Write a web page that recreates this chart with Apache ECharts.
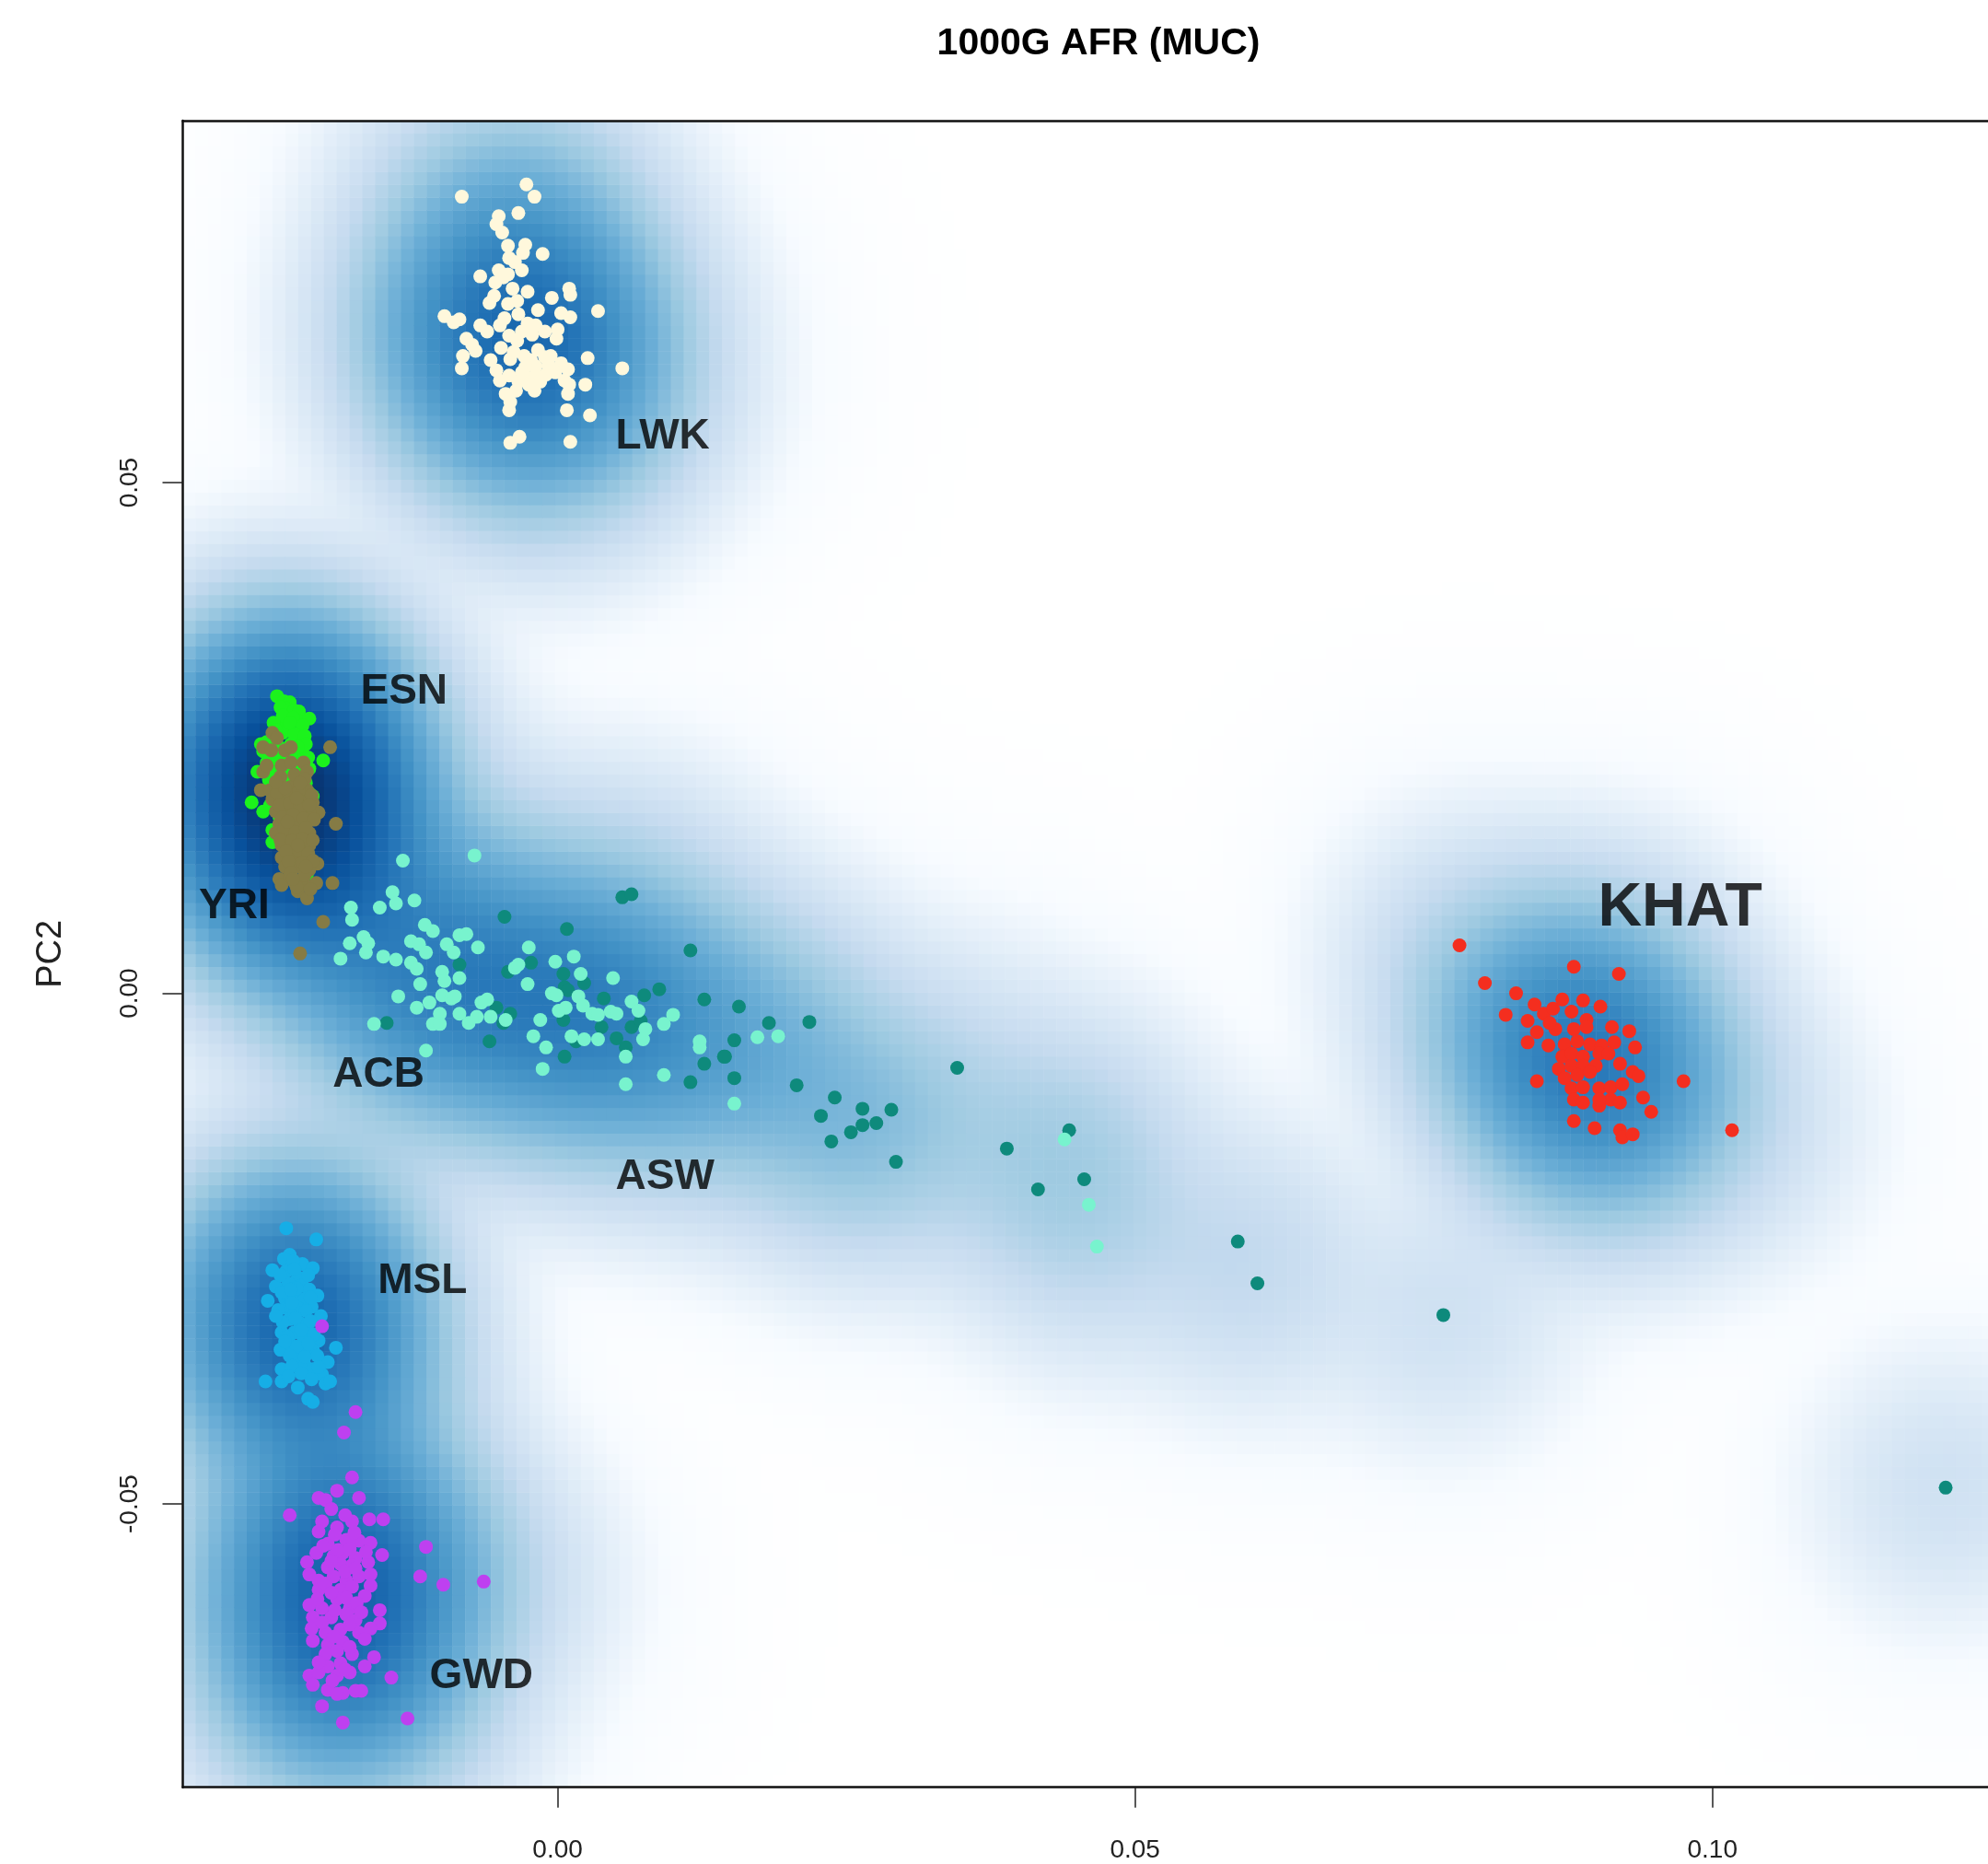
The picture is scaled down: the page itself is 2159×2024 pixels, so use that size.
<!DOCTYPE html>
<html>
<head>
<meta charset="utf-8">
<script src="https://cdn.jsdelivr.net/npm/echarts@6/dist/echarts.min.js"></script>
<style>
html, body { margin: 0; padding: 0; background: #fff; }
#main { width: 2159px; height: 2024px; }
</style>
</head>
<body>
<div id="main"></div>
<script>
// PC1 / PC2 scores per population
// (dense cores hold more overlapping points than can be told apart; those are estimated)
var lwk = [[-0.0083,0.0780],[-0.0027,0.0792],[-0.0020,0.0780],[-0.0034,0.0764],[-0.0051,0.0761],[-0.0053,0.0753],[-0.0043,0.0732],[-0.0028,0.0733],[-0.0013,0.0724],[-0.0042,0.0720],[-0.0037,0.0716],[-0.0031,0.0708],[-0.0067,0.0702],[-0.0051,0.0708],[-0.0047,0.0701],[-0.0054,0.0696],[-0.0043,0.0704],[-0.0026,0.0687],[-0.0055,0.0683],[-0.0005,0.0681],[0.0010,0.0690],[0.0011,0.0684],[-0.0043,0.0675],[-0.0035,0.0678],[0.0035,0.0668],[-0.0098,0.0663],[-0.0085,0.0660],[-0.0090,0.0657],[-0.0067,0.0654],[-0.0050,0.0654],[-0.0034,0.0665],[-0.0017,0.0669],[-0.0026,0.0656],[-0.0019,0.0654],[-0.0011,0.0648],[0.0003,0.0666],[0.0011,0.0662],[-0.0001,0.0641],[-0.0042,0.0644],[-0.0035,0.0639],[-0.0031,0.0648],[-0.0079,0.0641],[-0.0074,0.0635],[-0.0071,0.0629],[-0.0082,0.0624],[-0.0083,0.0612],[-0.0049,0.0632],[-0.0058,0.0620],[-0.0041,0.0621],[-0.0029,0.0624],[-0.0023,0.0620],[-0.0011,0.0623],[-0.0006,0.0624],[0.0003,0.0617],[0.0009,0.0611],[0.0026,0.0622],[0.0056,0.0612],[-0.0050,0.0600],[-0.0042,0.0605],[-0.0034,0.0599],[-0.0026,0.0602],[-0.0019,0.0605],[-0.0010,0.0606],[-0.0002,0.0608],[0.0006,0.0600],[0.0010,0.0596],[0.0024,0.0596],[-0.0045,0.0587],[-0.0041,0.0579],[0.0009,0.0587],[-0.0042,0.0571],[0.0008,0.0571],[0.0028,0.0566],[-0.0041,0.0539],[-0.0033,0.0545],[0.0011,0.0540],[-0.0019,0.0614],[-0.0031,0.0608],[-0.0015,0.0599],[-0.0025,0.0596],
  [-0.0039,0.0690],[-0.0046,0.0661],[-0.0022,0.0645],[-0.0061,0.0648],[-0.0038,0.0628],[-0.0017,0.0630],[-0.0053,0.0610],[-0.0028,0.0613],[-0.0008,0.0615],[-0.0036,0.0590],[-0.0020,0.0590],[-0.0059,0.0676],[-0.0030,0.0725],[-0.0048,0.0745],[0.0000,0.0650]];

var esn = [[-0.0243,0.0291],[-0.0237,0.0286],[-0.0232,0.0285],[-0.0235,0.0279],[-0.0240,0.0280],[-0.0228,0.0277],[-0.0224,0.0276],[-0.0225,0.0267],[-0.0215,0.0269],[-0.0240,0.0261],[-0.0233,0.0261],[-0.0257,0.0244],[-0.0252,0.0246],[-0.0248,0.0238],[-0.0255,0.0237],[-0.0244,0.0244],[-0.0231,0.0244],[-0.0225,0.0247],[-0.0221,0.0240],[-0.0216,0.0231],[-0.0203,0.0228],[-0.0231,0.0232],[-0.0236,0.0226],[-0.0223,0.0223],[-0.0215,0.0220],[-0.0252,0.0226],[-0.0260,0.0217],[-0.0244,0.0214],[-0.0235,0.0211],[-0.0225,0.0211],[-0.0219,0.0214],[-0.0265,0.0187],[-0.0255,0.0178],[-0.0249,0.0184],[-0.0212,0.0193],[-0.0215,0.0196],[-0.0247,0.0160],[-0.0219,0.0166],[-0.0239,0.0190],[-0.0217,0.0117],[-0.0247,0.0148],
  [-0.0238,0.0272],[-0.0229,0.0270],[-0.0246,0.0265],[-0.0221,0.0262],[-0.0238,0.0255],[-0.0228,0.0254],[-0.0247,0.0250],[-0.0219,0.0252],[-0.0241,0.0241],[-0.0234,0.0238],[-0.0227,0.0236],[-0.0218,0.0244],[-0.0250,0.0232],[-0.0242,0.0229],[-0.0229,0.0226],[-0.0220,0.0229],[-0.0246,0.0220],[-0.0238,0.0218],[-0.0230,0.0217],[-0.0222,0.0219],[-0.0250,0.0209],[-0.0241,0.0206],[-0.0233,0.0204],[-0.0226,0.0203],[-0.0218,0.0206],[-0.0247,0.0196],[-0.0239,0.0195],[-0.0231,0.0196],[-0.0222,0.0194],[-0.0244,0.0185],[-0.0234,0.0183],[-0.0226,0.0185],[-0.0241,0.0173],[-0.0230,0.0172],[-0.0222,0.0175],[-0.0237,0.0162],[-0.0228,0.0160],[-0.0236,0.0150],[-0.0226,0.0146],[-0.0232,0.0138],[-0.0242,0.0203],[-0.0235,0.0228],[-0.0225,0.0241],[-0.0244,0.0258],[-0.0232,0.0265]];

var yri = [[-0.0247,0.0255],[-0.0243,0.0250],[-0.0255,0.0241],[-0.0248,0.0238],[-0.0236,0.0238],[-0.0231,0.0241],[-0.0197,0.0241],[-0.0239,0.0223],[-0.0231,0.0226],[-0.0220,0.0226],[-0.0217,0.0217],[-0.0255,0.0217],[-0.0257,0.0199],[-0.0249,0.0199],[-0.0239,0.0202],[-0.0231,0.0202],[-0.0223,0.0205],[-0.0217,0.0199],[-0.0247,0.0190],[-0.0236,0.0190],[-0.0228,0.0193],[-0.0220,0.0187],[-0.0212,0.0187],[-0.0207,0.0177],[-0.0192,0.0166],[-0.0244,0.0178],[-0.0236,0.0178],[-0.0225,0.0178],[-0.0215,0.0178],[-0.0241,0.0166],[-0.0233,0.0166],[-0.0223,0.0163],[-0.0244,0.0157],[-0.0233,0.0154],[-0.0223,0.0154],[-0.0215,0.0157],[-0.0239,0.0145],[-0.0228,0.0145],[-0.0220,0.0148],[-0.0215,0.0145],[-0.0239,0.0133],[-0.0228,0.0133],[-0.0220,0.0133],[-0.0208,0.0127],[-0.0236,0.0124],[-0.0225,0.0124],[-0.0215,0.0121],[-0.0241,0.0112],[-0.0239,0.0106],[-0.0228,0.0109],[-0.0220,0.0109],[-0.0209,0.0108],[-0.0195,0.0108],[-0.0225,0.0100],[-0.0217,0.0093],[-0.0203,0.0070],[-0.0223,0.0039],[-0.0252,0.0223],[-0.0230,0.0185],[-0.0226,0.0170],[-0.0232,0.0160],[-0.0226,0.0138],[-0.0232,0.0115],
  [-0.0240,0.0212],[-0.0228,0.0214],[-0.0219,0.0210],[-0.0243,0.0196],[-0.0233,0.0197],[-0.0224,0.0198],[-0.0213,0.0194],[-0.0241,0.0184],[-0.0232,0.0186],[-0.0223,0.0183],[-0.0215,0.0184],[-0.0238,0.0172],[-0.0229,0.0175],[-0.0220,0.0171],[-0.0211,0.0170],[-0.0237,0.0161],[-0.0227,0.0158],[-0.0218,0.0162],[-0.0240,0.0150],[-0.0230,0.0149],[-0.0221,0.0151],[-0.0212,0.0150],[-0.0235,0.0139],[-0.0224,0.0140],[-0.0216,0.0137],[-0.0233,0.0129],[-0.0221,0.0128],[-0.0212,0.0130],[-0.0231,0.0118],[-0.0219,0.0116],[-0.0226,0.0104],[-0.0214,0.0102],[-0.0236,0.0201],[-0.0226,0.0191],[-0.0234,0.0168],[-0.0225,0.0145],[-0.0218,0.0124],[-0.0229,0.0112],[-0.0244,0.0207],[-0.0223,0.0206]];

var asw = [[-0.0046,0.0075],[0.0008,0.0063],[0.0056,0.0094],[0.0064,0.0097],[0.0115,0.0042],[-0.0085,0.0028],[-0.0023,0.0030],[-0.0043,0.0021],[0.0005,0.0019],[0.0006,0.0006],[0.0009,0.0003],[0.0023,0.0010],[0.0040,-0.0005],[0.0075,-0.0002],[0.0088,0.0004],[0.0127,-0.0006],[-0.0053,-0.0014],[-0.0041,-0.0020],[-0.0047,-0.0029],[0.0005,-0.0026],[0.0038,-0.0033],[0.0051,-0.0044],[0.0064,-0.0033],[0.0072,-0.0027],[0.0059,-0.0053],[-0.0059,-0.0047],[0.0006,-0.0062],[0.0127,-0.0069],[0.0115,-0.0087],[0.0144,-0.0062],[-0.0148,-0.0029],[0.0016,-0.0047],[0.0157,-0.0013],[0.0183,-0.0029],[0.0218,-0.0028],[0.0153,-0.0046],[0.0145,-0.0062],[0.0153,-0.0083],[0.0207,-0.0090],[0.0240,-0.0102],[0.0228,-0.0120],[0.0264,-0.0113],[0.0289,-0.0114],[0.0264,-0.0129],[0.0276,-0.0127],[0.0254,-0.0136],[0.0237,-0.0145],[0.0293,-0.0165],[0.0346,-0.0073],[0.0389,-0.0152],[0.0443,-0.0134],[0.0416,-0.0192],[0.0456,-0.0182],[0.0589,-0.0243],[0.0606,-0.0284],[0.0767,-0.0315],[0.1202,-0.0484]];

var acb = [[-0.0134,0.0130],[-0.0072,0.0135],[-0.0179,0.0084],[-0.0178,0.0072],[-0.0154,0.0084],[-0.0143,0.0099],[-0.0140,0.0088],[-0.0124,0.0091],[-0.0180,0.0049],[-0.0168,0.0055],[-0.0164,0.0049],[-0.0166,0.0040],[-0.0188,0.0034],[-0.0151,0.0036],[-0.0140,0.0033],[-0.0127,0.0051],[-0.0120,0.0048],[-0.0115,0.0067],[-0.0108,0.0061],[-0.0114,0.0040],[-0.0127,0.0030],[-0.0122,0.0024],[-0.0096,0.0048],[-0.0090,0.0040],[-0.0085,0.0057],[-0.0079,0.0058],[-0.0069,0.0045],[-0.0100,0.0021],[-0.0098,0.0012],[-0.0119,0.0009],[-0.0138,-0.0003],[-0.0122,-0.0014],[-0.0111,-0.0009],[-0.0100,-0.0002],[-0.0092,-0.0005],[-0.0089,-0.0003],[-0.0102,-0.0020],[-0.0108,-0.0030],[-0.0102,-0.0030],[-0.0085,0.0015],[-0.0085,-0.0020],[-0.0077,-0.0029],[-0.0070,-0.0023],[-0.0066,-0.0009],[-0.0061,-0.0006],[-0.0058,-0.0023],[-0.0045,-0.0026],[-0.0159,-0.0030],[-0.0114,-0.0056],[-0.0037,0.0025],[-0.0034,0.0028],[-0.0025,0.0045],[-0.0026,0.0009],[-0.0013,-0.0074],[-0.0015,-0.0026],[-0.0021,-0.0042],[-0.0010,-0.0053],[-0.0005,0.0000],[-0.0001,-0.0002],[-0.0002,0.0031],[0.0014,0.0036],[0.0020,0.0019],[0.0001,-0.0017],[0.0007,-0.0014],[0.0018,-0.0003],[0.0022,-0.0012],[0.0030,-0.0020],[0.0035,-0.0021],[0.0012,-0.0042],[0.0023,-0.0045],[0.0035,-0.0045],[0.0048,0.0015],[0.0046,-0.0018],[0.0051,-0.0020],[0.0064,-0.0008],[0.0070,-0.0017],[0.0076,-0.0035],[0.0074,-0.0045],[0.0059,-0.0062],[0.0059,-0.0089],[0.0092,-0.0030],[0.0100,-0.0021],[0.0092,-0.0080],[0.0123,-0.0047],[0.0123,-0.0053],[0.0173,-0.0043],[0.0191,-0.0042],[0.0153,-0.0108],[0.0439,-0.0143],[0.0460,-0.0207],[0.0467,-0.0248]];

var msl = [[-0.0235,-0.0230],[-0.0209,-0.0241],[-0.0232,-0.0256],[-0.0237,-0.0260],[-0.0221,-0.0265],[-0.0212,-0.0269],[-0.0247,-0.0271],[-0.0235,-0.0272],[-0.0225,-0.0278],[-0.0244,-0.0287],[-0.0233,-0.0284],[-0.0221,-0.0286],[-0.0215,-0.0290],[-0.0208,-0.0296],[-0.0251,-0.0301],[-0.0236,-0.0299],[-0.0228,-0.0296],[-0.0219,-0.0299],[-0.0235,-0.0308],[-0.0225,-0.0308],[-0.0213,-0.0307],[-0.0205,-0.0316],[-0.0232,-0.0319],[-0.0223,-0.0323],[-0.0239,-0.0332],[-0.0228,-0.0332],[-0.0217,-0.0329],[-0.0207,-0.0340],[-0.0192,-0.0347],[-0.0240,-0.0349],[-0.0231,-0.0344],[-0.0223,-0.0350],[-0.0212,-0.0349],[-0.0225,-0.0359],[-0.0219,-0.0364],[-0.0199,-0.0361],[-0.0239,-0.0368],[-0.0212,-0.0368],[-0.0204,-0.0373],[-0.0253,-0.0380],[-0.0239,-0.0380],[-0.0201,-0.0382],[-0.0197,-0.0380],[-0.0216,-0.0397],[-0.0212,-0.0400],[-0.0228,-0.0314],[-0.0220,-0.0338],
  [-0.0229,-0.0262],[-0.0240,-0.0276],[-0.0228,-0.0270],[-0.0216,-0.0276],[-0.0239,-0.0293],[-0.0226,-0.0289],[-0.0214,-0.0298],[-0.0242,-0.0310],[-0.0230,-0.0303],[-0.0218,-0.0311],[-0.0238,-0.0322],[-0.0227,-0.0318],[-0.0214,-0.0321],[-0.0234,-0.0336],[-0.0222,-0.0330],[-0.0211,-0.0334],[-0.0236,-0.0341],[-0.0226,-0.0346],[-0.0216,-0.0343],[-0.0232,-0.0355],[-0.0219,-0.0356],[-0.0208,-0.0355],[-0.0230,-0.0365],[-0.0222,-0.0372],[-0.0213,-0.0378],[-0.0233,-0.0375],[-0.0225,-0.0386],[-0.0207,-0.0366],[-0.0244,-0.0316],[-0.0231,-0.0290]];

var gwd = [[-0.0204,-0.0326],[-0.0175,-0.0410],[-0.0185,-0.0430],[-0.0178,-0.0474],[-0.0191,-0.0487],[-0.0207,-0.0494],[-0.0201,-0.0496],[-0.0172,-0.0494],[-0.0232,-0.0511],[-0.0204,-0.0517],[-0.0191,-0.0523],[-0.0178,-0.0517],[-0.0163,-0.0515],[-0.0151,-0.0515],[-0.0207,-0.0527],[-0.0199,-0.0539],[-0.0183,-0.0535],[-0.0172,-0.0536],[-0.0162,-0.0538],[-0.0209,-0.0548],[-0.0194,-0.0551],[-0.0186,-0.0548],[-0.0175,-0.0553],[-0.0152,-0.0550],[-0.0217,-0.0557],[-0.0199,-0.0562],[-0.0188,-0.0559],[-0.0178,-0.0560],[-0.0164,-0.0557],[-0.0215,-0.0569],[-0.0207,-0.0575],[-0.0194,-0.0571],[-0.0183,-0.0575],[-0.0172,-0.0571],[-0.0162,-0.0569],[-0.0207,-0.0584],[-0.0188,-0.0584],[-0.0178,-0.0581],[-0.0162,-0.0580],[-0.0167,-0.0590],[-0.0215,-0.0599],[-0.0204,-0.0602],[-0.0191,-0.0593],[-0.0180,-0.0602],[-0.0154,-0.0604],[-0.0212,-0.0611],[-0.0196,-0.0611],[-0.0183,-0.0608],[-0.0175,-0.0614],[-0.0154,-0.0617],[-0.0213,-0.0622],[-0.0201,-0.0626],[-0.0188,-0.0623],[-0.0172,-0.0626],[-0.0162,-0.0622],[-0.0212,-0.0634],[-0.0199,-0.0638],[-0.0186,-0.0635],[-0.0167,-0.0632],[-0.0201,-0.0647],[-0.0191,-0.0644],[-0.0178,-0.0647],[-0.0159,-0.0650],[-0.0199,-0.0659],[-0.0188,-0.0656],[-0.0167,-0.0659],[-0.0215,-0.0668],[-0.0207,-0.0665],[-0.0191,-0.0668],[-0.0180,-0.0665],[-0.0212,-0.0677],[-0.0199,-0.0682],[-0.0186,-0.0685],[-0.0175,-0.0683],[-0.0170,-0.0683],[-0.0204,-0.0698],[-0.0186,-0.0714],[-0.0144,-0.0670],[-0.0130,-0.0710],[-0.0114,-0.0542],[-0.0119,-0.0571],[-0.0099,-0.0579],[-0.0064,-0.0576],[-0.0191,-0.0686],
  [-0.0196,-0.0505],[-0.0184,-0.0511],[-0.0193,-0.0530],[-0.0176,-0.0528],[-0.0203,-0.0541],[-0.0190,-0.0545],[-0.0180,-0.0544],[-0.0166,-0.0547],[-0.0196,-0.0556],[-0.0184,-0.0566],[-0.0201,-0.0578],[-0.0175,-0.0563],[-0.0196,-0.0587],[-0.0183,-0.0592],[-0.0174,-0.0597],[-0.0208,-0.0593],[-0.0193,-0.0604],[-0.0170,-0.0606],[-0.0204,-0.0616],[-0.0180,-0.0618],[-0.0194,-0.0630],[-0.0180,-0.0640],[-0.0207,-0.0655],[-0.0184,-0.0662],[-0.0195,-0.0673]];

var khat = [[0.0781,0.0047],[0.0803,0.0010],[0.0830,0.0000],[0.0821,-0.0021],[0.0880,0.0026],[0.0919,0.0019],[0.0846,-0.0011],[0.0870,-0.0006],[0.0888,-0.0007],[0.0903,-0.0013],[0.0840,-0.0027],[0.0854,-0.0020],[0.0862,-0.0015],[0.0878,-0.0018],[0.0891,-0.0026],[0.0848,-0.0038],[0.0864,-0.0035],[0.0880,-0.0035],[0.0891,-0.0033],[0.0913,-0.0033],[0.0928,-0.0037],[0.0840,-0.0048],[0.0858,-0.0051],[0.0872,-0.0050],[0.0883,-0.0047],[0.0894,-0.0050],[0.0904,-0.0051],[0.0915,-0.0048],[0.0933,-0.0053],[0.0870,-0.0062],[0.0878,-0.0059],[0.0888,-0.0062],[0.0902,-0.0059],[0.0910,-0.0059],[0.0867,-0.0074],[0.0878,-0.0071],[0.0888,-0.0071],[0.0899,-0.0071],[0.0920,-0.0069],[0.0931,-0.0077],[0.0936,-0.0081],[0.0872,-0.0083],[0.0883,-0.0080],[0.0894,-0.0077],[0.0848,-0.0086],[0.0878,-0.0093],[0.0888,-0.0092],[0.0902,-0.0093],[0.0912,-0.0092],[0.0922,-0.0089],[0.0880,-0.0104],[0.0888,-0.0107],[0.0902,-0.0110],[0.0912,-0.0104],[0.0920,-0.0107],[0.0940,-0.0102],[0.0947,-0.0116],[0.0975,-0.0086],[0.0880,-0.0125],[0.0898,-0.0132],[0.0920,-0.0134],[0.0922,-0.0141],[0.0931,-0.0138],[0.1017,-0.0134],[0.0902,-0.0104],[0.0859,-0.0029]];

// population labels and where they sit (data units)
var labelNames = ['LWK', 'ESN', 'YRI', 'ACB', 'ASW', 'MSL', 'GWD', 'KHAT'];
var labelX = [0.0091, -0.0133, -0.0280, -0.0155, 0.0093, -0.0117, -0.0066, 0.0972];
var labelY = [0.0545, 0.0295, 0.0085, -0.0080, -0.0180, -0.0282, -0.0669, 0.0083];

var xTicks = [0, 0.05, 0.10];
var yTicks = [-0.05, 0, 0.05];

var XMIN = -0.03246, XMAX = 0.12554;
var YMIN = -0.07774, YMAX = 0.08545;

// draw order and colours
var groups = [
    {data: lwk, color: '#FFF8DC'},
    {data: esn, color: '#1CF21C'},
    {data: yri, color: '#857B45'},
    {data: asw, color: '#0E8A7C'},
    {data: acb, color: '#78F3CE'},
    {data: msl, color: '#16AEE6'},
    {data: gwd, color: '#BE40F0'},
    {data: khat, color: '#F42E1F'}
];

// smoothScatter default ramp: white then blues9
var ramp = ['#FFFFFF', '#F7FBFF', '#DEEBF7', '#C6DBEF', '#9ECAE1', '#6BAED6', '#4292C6', '#2171B5', '#08519C', '#08306B'];

// smoothScatter-like density: gaussian kernel, 4th root transform
var NX = 142, NY = 130;
var HX = 0.0056, HY = 0.0064;
var allPts = [];
groups.forEach(function (g) { allPts = allPts.concat(g.data); });

var dx = (XMAX - XMIN) / NX, dy = (YMAX - YMIN) / NY;
var cells = [];
var densMax = 0;
var xCats = [], yCats = [];
for (var i = 0; i < NX; i++) xCats.push(i);
for (var j = 0; j < NY; j++) yCats.push(j);
for (var i = 0; i < NX; i++) {
    var cx = XMIN + (i + 0.5) * dx;
    for (var j = 0; j < NY; j++) {
        var cy = YMIN + (j + 0.5) * dy;
        var d = 0;
        for (var k = 0; k < allPts.length; k++) {
            var u = (allPts[k][0] - cx) / HX;
            var v = (allPts[k][1] - cy) / HY;
            var r = u * u + v * v;
            if (r < 40) d += Math.exp(-0.5 * r);
        }
        d = Math.pow(d, 0.25);
        if (d > densMax) densMax = d;
        cells.push([i, j, d]);
    }
}

var FONT = '"Liberation Sans", Arial, Helvetica, sans-serif';

var series = [{
    type: 'heatmap',
    xAxisIndex: 2,
    yAxisIndex: 1,
    data: cells,
    progressive: 0,
    silent: true,
    z: 1
}];

groups.forEach(function (g) {
    series.push({
        type: 'scatter',
        xAxisIndex: 0,
        yAxisIndex: 0,
        data: g.data,
        symbolSize: 15,
        itemStyle: {color: g.color, opacity: 1},
        silent: true,
        z: 3
    });
});

var labelData = [];
for (var n = 0; n < labelNames.length; n++) {
    labelData.push({
        name: labelNames[n],
        value: [labelX[n], labelY[n]],
        label: {fontSize: labelNames[n] === 'KHAT' ? 66 : 46}
    });
}
series.push({
    type: 'scatter',
    xAxisIndex: 0,
    yAxisIndex: 0,
    data: labelData,
    symbolSize: 0,
    silent: true,
    z: 4,
    label: {
        show: true,
        position: 'inside',
        formatter: '{b}',
        color: '#000',
        textBorderWidth: 0,
        fontWeight: 'bold',
        fontFamily: FONT,
        align: 'center',
        verticalAlign: 'middle'
    }
});

var tickFmt = function (v) { return v.toFixed(2); };
var gridBox = {left: 198.5, top: 131, width: 1981.5, height: 1809.7, outerBoundsMode: 'none', containLabel: false};

var myChart = echarts.init(document.getElementById('main'));
var option = {
    animation: false,
    backgroundColor: '#ffffff',
    graphic: [{
        type: 'text',
        x: 1193,
        y: 48,
        style: {
            text: '1000G AFR (MUC)',
            font: 'bold 41px ' + FONT,
            fill: '#000',
            align: 'center',
            verticalAlign: 'middle'
        }
    }],
    grid: [gridBox, echarts.util.clone(gridBox)],
    visualMap: {
        type: 'continuous',
        show: false,
        seriesIndex: 0,
        min: 0,
        max: densMax,
        inRange: {color: ramp}
    },
    xAxis: [
        {
            gridIndex: 0,
            type: 'value',
            min: XMIN,
            max: XMAX,
            z: 10,
            splitLine: {show: false},
            axisLine: {show: true, onZero: false, lineStyle: {color: '#111', width: 2.5}},
            axisTick: {show: true, customValues: xTicks, length: 22, lineStyle: {color: '#222', width: 1.5}},
            axisLabel: {customValues: xTicks, formatter: tickFmt, fontSize: 28, fontFamily: FONT, color: '#222', margin: 55}
        },
        {
            gridIndex: 0,
            type: 'value',
            position: 'top',
            min: XMIN,
            max: XMAX,
            z: 10,
            splitLine: {show: false},
            axisLine: {show: true, onZero: false, lineStyle: {color: '#111', width: 2.5}},
            axisTick: {show: false},
            axisLabel: {show: false}
        },
        {
            gridIndex: 1,
            type: 'category',
            data: xCats,
            show: false
        }
    ],
    yAxis: [
        {
            gridIndex: 0,
            type: 'value',
            min: YMIN,
            max: YMAX,
            z: 10,
            name: 'PC2',
            nameLocation: 'middle',
            nameGap: 124,
            nameTextStyle: {fontSize: 38, fontFamily: FONT, color: '#222'},
            splitLine: {show: false},
            axisLine: {show: true, onZero: false, lineStyle: {color: '#111', width: 2.5}},
            axisTick: {show: true, customValues: yTicks, length: 22, lineStyle: {color: '#222', width: 1.5}},
            axisLabel: {customValues: yTicks, formatter: tickFmt, rotate: 90, fontSize: 28, fontFamily: FONT, color: '#222', margin: 43}
        },
        {
            gridIndex: 1,
            type: 'category',
            data: yCats,
            show: false
        }
    ],
    series: series
};
myChart.setOption(option);
</script>
</body>
</html>
